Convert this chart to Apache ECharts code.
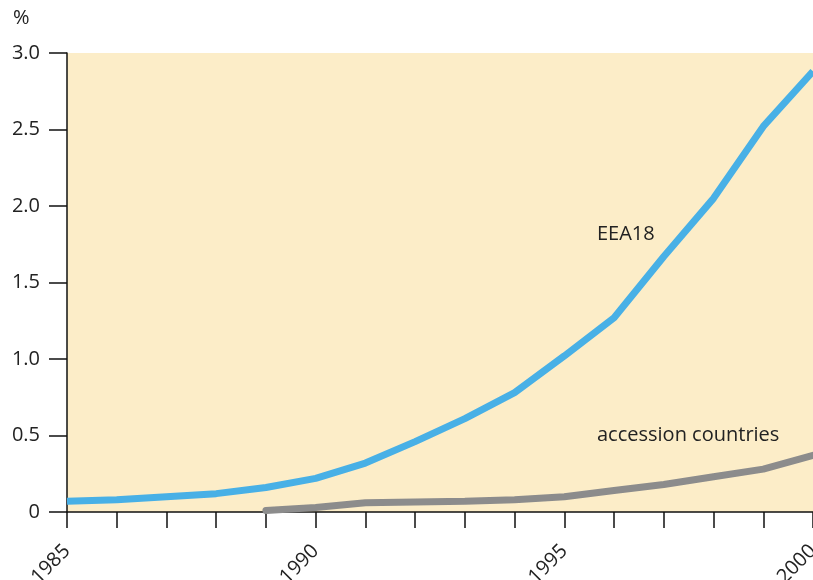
<!DOCTYPE html>
<html>
<head>
<meta charset="utf-8">
<script src="https://cdn.jsdelivr.net/npm/echarts@6/dist/echarts.min.js"></script>
<style>
html,body{margin:0;padding:0;background:#fff;}
#chart{width:813px;height:580px;}
</style>
</head>
<body>
<div id="chart"></div>
<script>
var years = ['1985','1986','1987','1988','1989','1990','1991','1992','1993','1994','1995','1996','1997','1998','1999','2000'];
var eea18 = [0.07,0.08,0.10,0.12,0.16,0.22,0.32,0.46,0.61,0.78,1.02,1.27,1.67,2.05,2.52,2.88];
var accession = [null,null,null,null,0.01,0.03,0.06,0.065,0.07,0.08,0.10,0.14,0.18,0.23,0.28,0.37];

var myChart = echarts.init(document.getElementById('chart'));
var font = 'Open Sans';
var option = {
    animation: false,
    grid: {
        left: 67,
        right: 0,
        top: 53,
        bottom: 68,
        show: true,
        backgroundColor: '#fcedc8',
        borderWidth: 0,
        containLabel: false,
        outerBoundsMode: 'none'
    },
    xAxis: {
        type: 'category',
        data: years,
        boundaryGap: false,
        axisLine: {lineStyle: {color: '#111', width: 1.5}},
        axisTick: {show: true, interval: 0, length: 16, lineStyle: {color: '#111', width: 1.5}},
        axisLabel: {
            interval: 4,
            rotate: 45,
            fontFamily: font,
            fontSize: 20,
            color: '#222',
            margin: 36
        },
        splitLine: {show: false}
    },
    yAxis: {
        type: 'value',
        min: 0,
        max: 3,
        interval: 0.5,
        axisLine: {show: true, lineStyle: {color: '#111', width: 1.5}},
        axisTick: {show: true, length: 18, lineStyle: {color: '#111', width: 1.5}},
        axisLabel: {
            fontFamily: font,
            fontSize: 20,
            color: '#222',
            margin: 27,
            formatter: function(v){ return v === 0 ? '0' : v.toFixed(1); }
        },
        splitLine: {show: false}
    },
    series: [
        {
            name: 'EEA18',
            type: 'line',
            data: eea18,
            symbol: 'none',
            lineStyle: {color: '#48b0e6', width: 7},
            z: 3
        },
        {
            name: 'accession countries',
            type: 'line',
            data: accession,
            symbol: 'none',
            lineStyle: {color: '#8c8c8c', width: 7, cap: 'round'},
            z: 2
        }
    ],
    graphic: [
        {type: 'text', left: 13, top: 8, style: {text: '%', font: '20px "Open Sans"', fill: '#222'}},
        {type: 'text', left: 597, top: 224, style: {text: 'EEA18', font: '20px "Open Sans"', fill: '#222'}},
        {type: 'text', left: 597, top: 425, style: {text: 'accession countries', font: '20px "Open Sans"', fill: '#222'}}
    ]
};
myChart.setOption(option);
</script>
</body>
</html>
